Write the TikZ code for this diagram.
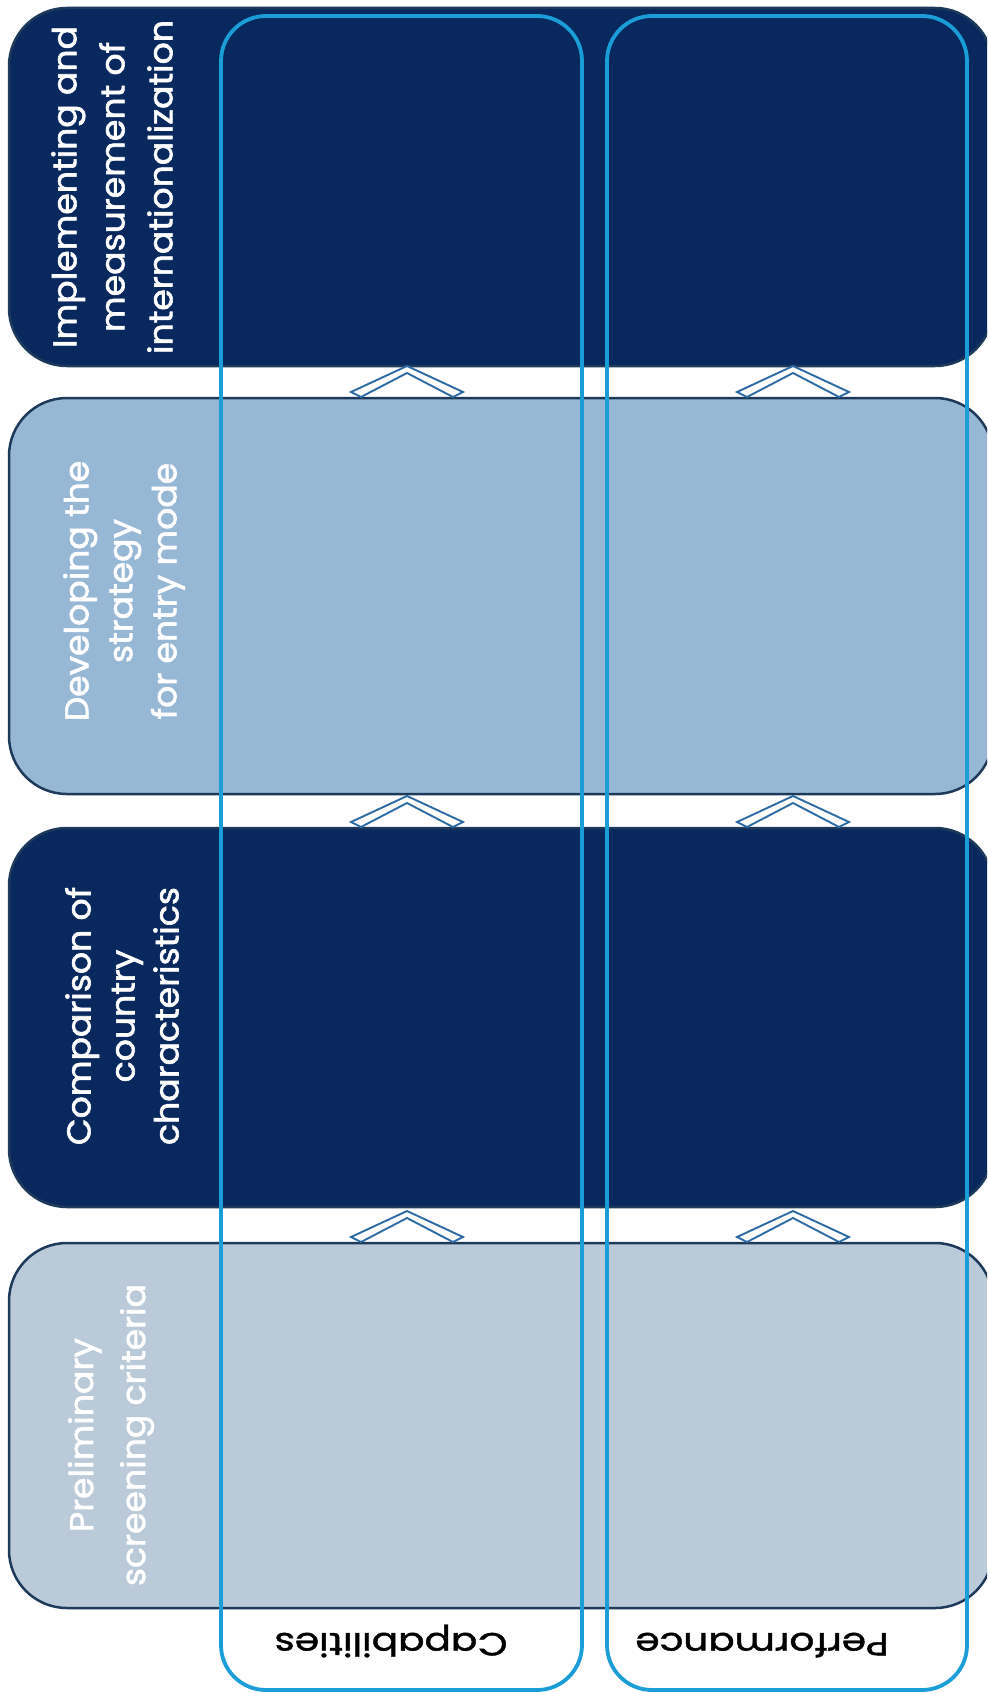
\documentclass[tikz,border=0pt]{standalone}
\usepackage{fontspec}
\setmainfont{Poppins}
\newfontfamily\stagefont{Poppins}[FakeBold=1.8]
\newfontfamily\colfont{Poppins}[FakeBold=1.2]
\definecolor{navy}{RGB}{9,41,94}
\definecolor{edge}{RGB}{30,58,90}
\definecolor{lightblue}{RGB}{151,184,213}
\definecolor{greyblue}{RGB}{186,202,216}
\definecolor{cyanline}{RGB}{27,157,216}
\definecolor{chevblue}{RGB}{45,107,164}
\tikzset{
  stagebox/.style={draw=edge, line width=2.5pt, rounded corners=58pt, minimum width=984pt, inner sep=0pt},
  colbox/.style={draw=cyanline, line width=3.8pt, rounded corners=45pt, inner sep=0pt},
  boxtext/.style={rotate=90, xscale=1.05, text=white, align=center, inner sep=0pt},
  collabel/.style={rotate=180, xscale=1.22, anchor=base, text=black, inner sep=0pt, font=\colfont\fontsize{32}{38}\selectfont},
  chevline/.style={draw=chevblue, fill=white, line width=1.9pt, line join=miter},
  chev/.pic={\path[chevline] (0,-31) -- (56,-5) -- (46,0) -- (0,-24) -- (-46,0) -- (-56,-5) -- cycle;}
}
\begin{document}
\begin{tikzpicture}[x=1pt,y=-1pt]
\useasboundingbox (0,0) rectangle (987,1693);
\clip (0,0) rectangle (987,1693);
\fill[white] (0,0) rectangle (987,1693);
% stage boxes
\node[stagebox, fill=navy, minimum height=358pt] (b1) at (501,187) {};
\node[stagebox, fill=lightblue, minimum height=396pt] (b2) at (501,596) {};
\node[stagebox, fill=navy, minimum height=379pt] (b3) at (501,1017.5) {};
\node[stagebox, fill=greyblue, minimum height=365pt] (b4) at (501,1425.5) {};
% chevrons
\pic at (407,397) {chev};
\pic at (793,397) {chev};
\pic at (407,827) {chev};
\pic at (793,827) {chev};
\pic at (407,1242) {chev};
\pic at (793,1242) {chev};
% columns
\node[colbox, minimum width=361pt, minimum height=1674pt] (c1) at (401.5,853) {};
\node[colbox, minimum width=360pt, minimum height=1674pt] (c2) at (787,853) {};
% texts
\node[boxtext, font=\stagefont\fontsize{33}{48}\selectfont] (t1) at (112,187) {Implementing and\\measurement of\\internationalization};
\node[boxtext, font=\stagefont\fontsize{33}{44}\selectfont] (t2) at (124,591) {Developing the\\strategy\\for entry mode};
\node[boxtext, font=\stagefont\fontsize{33}{44}\selectfont] (t3) at (122,1016) {Comparison of\\country\\characteristics};
\node[boxtext, font=\stagefont\fontsize{33}{52}\selectfont] (t4) at (111,1435) {Preliminary\\screening criteria};
\node[collabel] (l1) at (391,1633) {Capabilities};
\node[collabel] (l2) at (762,1633) {Performance};
\end{tikzpicture}
\end{document}
